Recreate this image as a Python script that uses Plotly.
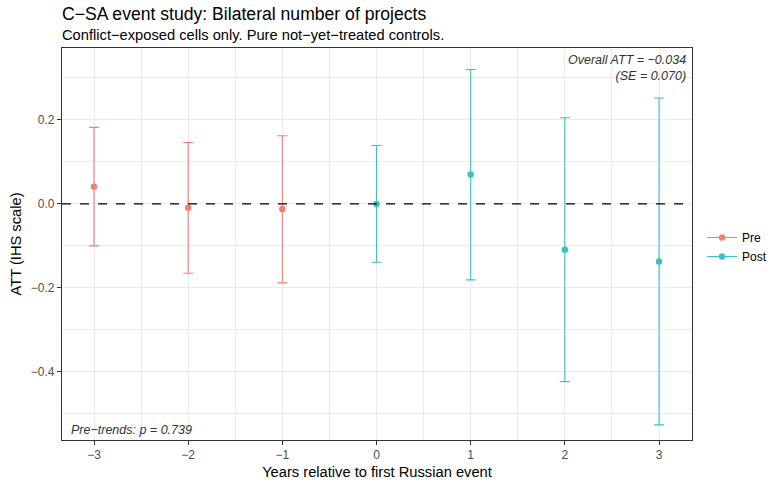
import plotly.graph_objects as go

# Event-time coefficients (Callaway–Sant'Anna), 95% confidence intervals
event_time = [-3, -2, -1, 0, 1, 2, 3]
estimate = [0.041, -0.009, -0.012, 0.000, 0.070, -0.109, -0.137]
ci_low = [-0.100, -0.165, -0.188, -0.139, -0.181, -0.423, -0.526]
ci_high = [0.182, 0.146, 0.162, 0.139, 0.320, 0.205, 0.252]
period = ["Pre", "Pre", "Pre", "Post", "Post", "Post", "Post"]

groups = ["Pre", "Post"]
colors = {"Pre": "#F47D74", "Post": "#3DBFC4"}

FONT = "Liberation Sans, Arial, sans-serif"

# plot panel in pixels
W, H = 771, 483
L, R, T, B = 62, 79, 48, 43
ph = H - T - B


def py(ypix):
    """Convert a pixel row to paper y."""
    return (H - B - ypix) / ph


fig = go.Figure()

for g in groups:
    idx = [i for i, p in enumerate(period) if p == g]
    xs = [event_time[i] for i in idx]
    ys = [estimate[i] for i in idx]
    up = [ci_high[i] - estimate[i] for i in idx]
    dn = [estimate[i] - ci_low[i] for i in idx]
    fig.add_trace(go.Scatter(
        x=xs, y=ys, mode="markers", name=g, showlegend=False,
        marker=dict(color=colors[g], size=6.5),
        error_y=dict(type="data", symmetric=False, array=up, arrayminus=dn,
                     color=colors[g], thickness=1.1, width=5),
    ))
    # legend key: point on a line segment
    fig.add_trace(go.Scatter(
        x=[None], y=[None], mode="lines+markers", name=g,
        line=dict(color=colors[g], width=1.1),
        marker=dict(color=colors[g], size=6.5),
    ))

fig.add_hline(y=0, line=dict(color="black", width=1.1, dash="dash"))

grid = "#EBEBEB"
fig.update_xaxes(
    range=[-3.34, 3.35], tickmode="array", tickvals=event_time,
    ticktext=["\u22123", "\u22122", "\u22121", "0", "1", "2", "3"],
    showgrid=True, gridcolor=grid, gridwidth=1.1,
    minor=dict(tickmode="array", tickvals=[-2.5, -1.5, -0.5, 0.5, 1.5, 2.5],
               showgrid=True, gridcolor=grid, gridwidth=0.55),
    zeroline=False, ticks="outside", ticklen=4, tickcolor="#333333", tickwidth=1,
    tickfont=dict(size=12, color="#4D4D4D", family=FONT),
    showline=True, mirror=True, linecolor="#333333", linewidth=1.1,
    title=dict(text="Years relative to first Russian event", standoff=5,
               font=dict(size=14.7, color="black", family=FONT)),
)
fig.update_yaxes(
    range=[-0.562, 0.371], tickmode="array", tickvals=[-0.4, -0.2, 0.0, 0.2],
    ticktext=["\u22120.4", "\u22120.2", "0.0", "0.2"],
    showgrid=True, gridcolor=grid, gridwidth=1.1,
    minor=dict(tickmode="array", tickvals=[-0.5, -0.3, -0.1, 0.1, 0.3],
               showgrid=True, gridcolor=grid, gridwidth=0.55),
    zeroline=False, ticks="outside", ticklen=4, tickcolor="#333333", tickwidth=1,
    tickfont=dict(size=12, color="#4D4D4D", family=FONT),
    showline=True, mirror=True, linecolor="#333333", linewidth=1.1,
    title=dict(text="ATT (IHS scale)", standoff=5,
               font=dict(size=14.7, color="black", family=FONT)),
)

fig.add_annotation(
    xref="paper", yref="paper", x=0.994, y=0.992, xanchor="right", yanchor="top",
    text="<i>Overall ATT = \u22120.034</i><br><i>(SE = 0.070)</i>", align="right",
    showarrow=False, font=dict(size=12.5, color="#333333", family=FONT),
)
fig.add_annotation(
    xref="paper", yref="paper", x=0.011, y=0.003, xanchor="left", yanchor="bottom",
    text="<i>Pre\u2212trends: p = 0.739</i>", align="left",
    showarrow=False, font=dict(size=12.5, color="#333333", family=FONT),
)

# title and subtitle
fig.add_annotation(
    xref="paper", yref="paper", x=0, y=py(14), xanchor="left", yanchor="middle",
    text="C\u2212SA event study: Bilateral number of projects",
    showarrow=False, xshift=-2, font=dict(size=17.6, color="black", family=FONT),
)
fig.add_annotation(
    xref="paper", yref="paper", x=0, y=py(35), xanchor="left", yanchor="middle",
    text="Conflict\u2212exposed cells only. Pure not\u2212yet\u2212treated controls.",
    showarrow=False, xshift=-2, font=dict(size=14.7, color="black", family=FONT),
)

fig.update_layout(
    width=W, height=H,
    margin=dict(l=L, r=R, t=T, b=B, autoexpand=False),
    paper_bgcolor="white", plot_bgcolor="white",
    font=dict(family=FONT, color="black"),
    legend=dict(x=1.016, xanchor="left", y=py(247), yanchor="middle",
                font=dict(size=12, family=FONT, color="black"),
                bgcolor="rgba(0,0,0,0)", itemwidth=30, borderwidth=0),
)

fig.write_html("out.html")
